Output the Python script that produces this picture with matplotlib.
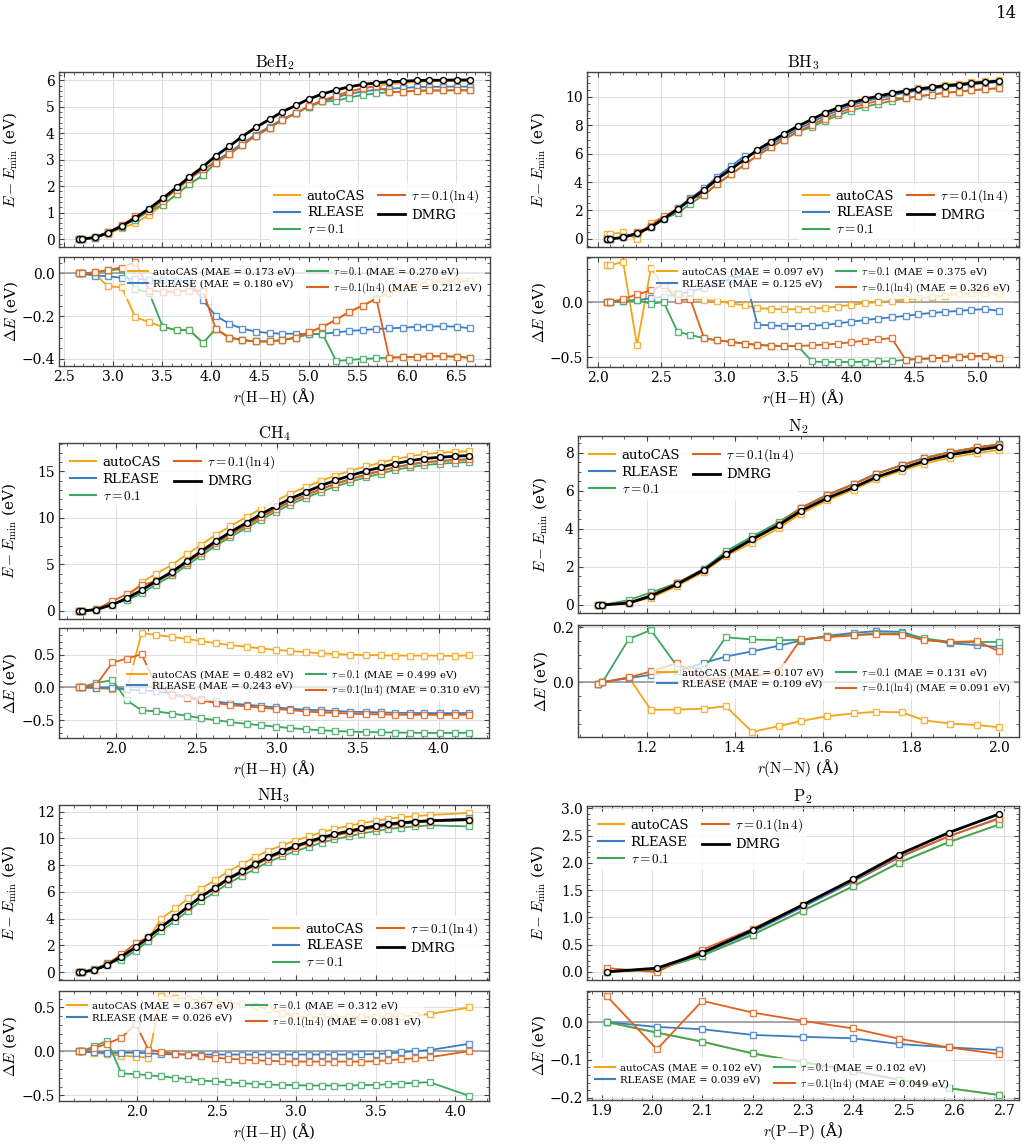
import matplotlib
matplotlib.use("Agg")
import matplotlib.pyplot as plt
from matplotlib.lines import Line2D
from matplotlib.ticker import AutoMinorLocator, MultipleLocator
from matplotlib.colors import to_rgba

plt.rcParams["font.family"] = ["DejaVu Serif"]
plt.rcParams["mathtext.fontset"] = "cm"

# ---- data ----
methods = ["autoCAS", "RLEASE", r"$\tau = 0.1$", r"$\tau = 0.1(\ln 4)$"]
colors = ["#f2a516", "#3c7dc4", "#3ba75f", "#e0611c"]

# BeH2
beh2_r = [2.65, 2.68, 2.82, 2.95, 3.09, 3.23, 3.37, 3.51, 3.65, 3.78, 3.92, 4.05, 4.19, 4.32, 4.46, 4.60,
          4.73, 4.87, 5.00, 5.14, 5.28, 5.41, 5.55, 5.69, 5.82, 5.96, 6.10, 6.23, 6.37, 6.51, 6.65]
beh2_dmrg = [0.00, 0.00, 0.06, 0.24, 0.49, 0.80, 1.15, 1.54, 1.95, 2.34, 2.73, 3.14, 3.51, 3.87, 4.22, 4.52,
             4.81, 5.05, 5.29, 5.48, 5.63, 5.75, 5.84, 5.90, 5.94, 5.96, 5.99, 6.00, 6.00, 6.01, 6.01]
beh2_autocas = [0.0, 0.0, -0.005, -0.06, -0.065, -0.205, -0.228, -0.25, -0.265, -0.265, -0.325, -0.26, -0.30,
                -0.312, -0.318, -0.318, -0.312, -0.30, -0.276, -0.25, -0.216, -0.181, -0.15, -0.118, -0.09,
                -0.07, -0.05, -0.04, -0.036, -0.036, -0.036]
beh2_rlease = [0.0, 0.0, -0.01, -0.013, -0.02, -0.025, -0.03, -0.032, -0.034, -0.036, -0.126, -0.198, -0.236,
               -0.258, -0.272, -0.279, -0.282, -0.282, -0.285, -0.282, -0.276, -0.269, -0.265, -0.26, -0.257,
               -0.254, -0.25, -0.249, -0.247, -0.249, -0.257]
beh2_tau = [0.0, 0.0, 0.005, 0.015, 0.02, -0.072, -0.09, -0.25, -0.265, -0.265, -0.325, -0.26, -0.30, -0.312,
            -0.318, -0.318, -0.312, -0.30, -0.285, -0.282, -0.41, -0.405, -0.40, -0.397, -0.394, -0.392, -0.39,
            -0.388, -0.387, -0.389, -0.395]
beh2_tau_ln4 = [0.0, 0.0, 0.006, 0.017, 0.028, 0.054, -0.08, -0.085, -0.085, -0.08, -0.08, -0.26, -0.30,
                -0.312, -0.318, -0.318, -0.312, -0.30, -0.276, -0.25, -0.216, -0.181, -0.15, -0.118, -0.394,
                -0.392, -0.39, -0.388, -0.388, -0.39, -0.395]
beh2_mae = [0.173, 0.180, 0.270, 0.212]

# BH3
bh3_r = [2.07, 2.10, 2.20, 2.31, 2.42, 2.52, 2.63, 2.73, 2.84, 2.94, 3.05, 3.16, 3.26, 3.37, 3.47, 3.58,
         3.69, 3.79, 3.90, 4.00, 4.11, 4.21, 4.32, 4.43, 4.53, 4.64, 4.74, 4.85, 4.95, 5.06, 5.17]
bh3_dmrg = [0.00, 0.00, 0.10, 0.38, 0.83, 1.42, 2.08, 2.76, 3.44, 4.20, 4.90, 5.61, 6.27, 6.86, 7.40, 7.95,
            8.42, 8.87, 9.25, 9.58, 9.86, 10.05, 10.26, 10.42, 10.57, 10.68, 10.80, 10.87, 10.97, 11.04, 11.13]
bh3_autocas = [0.334, 0.337, 0.365, -0.393, 0.313, 0.13, 0.08, 0.03, 0.02, 0.01, -0.01, -0.03, -0.055, -0.062,
               -0.065, -0.065, -0.06, -0.052, -0.04, -0.025, -0.01, 0.0, 0.01, 0.025, 0.035, 0.048, 0.06,
               0.072, 0.08, 0.085, 0.07]
bh3_rlease = [0.0, 0.0, 0.008, 0.018, 0.035, 0.05, 0.07, 0.095, 0.13, 0.17, 0.21, 0.245, -0.206, -0.212,
              -0.218, -0.218, -0.215, -0.209, -0.193, -0.178, -0.163, -0.15, -0.138, -0.126, -0.11, -0.098,
              -0.089, -0.08, -0.07, -0.064, -0.08]
bh3_tau = [0.0, 0.0, 0.01, 0.02, -0.015, 0.0, -0.27, -0.298, -0.33, -0.347, -0.362, -0.377, -0.39, -0.396,
           -0.40, -0.40, -0.54, -0.545, -0.545, -0.545, -0.542, -0.54, -0.538, -0.524, -0.518, -0.512, -0.506,
           -0.50, -0.494, -0.49, -0.51]
bh3_tau_ln4 = [0.0, 0.0, 0.028, 0.07, 0.107, 0.16, 0.015, 0.03, -0.33, -0.347, -0.362, -0.377, -0.39, -0.396,
               -0.40, -0.40, -0.393, -0.387, -0.377, -0.365, -0.35, -0.34, -0.328, -0.524, -0.518, -0.512,
               -0.506, -0.50, -0.494, -0.49, -0.51]
bh3_mae = [0.097, 0.125, 0.375, 0.326]

# CH4
ch4_r = [1.77, 1.79, 1.88, 1.98, 2.07, 2.16, 2.25, 2.35, 2.44, 2.53, 2.62, 2.71, 2.81, 2.90, 2.99, 3.08,
         3.18, 3.27, 3.36, 3.45, 3.55, 3.64, 3.73, 3.82, 3.91, 4.01, 4.10, 4.19]
ch4_dmrg = [0.00, 0.00, 0.15, 0.69, 1.37, 2.24, 3.21, 4.22, 5.34, 6.43, 7.51, 8.48, 9.49, 10.40, 11.26, 12.06,
            12.82, 13.47, 14.04, 14.55, 15.05, 15.45, 15.85, 16.14, 16.39, 16.53, 16.64, 16.71]
ch4_autocas = [0.0, 0.0, -0.01, -0.03, -0.03, 0.83, 0.80, 0.77, 0.74, 0.706, 0.675, 0.644, 0.62, 0.593,
               0.572, 0.557, 0.536, 0.52, 0.51, 0.50, 0.495, 0.49, 0.485, 0.485, 0.485, 0.485, 0.48, 0.49]
ch4_rlease = [0.0, 0.0, -0.01, -0.005, -0.03, -0.046, -0.06, -0.1, -0.145, -0.18, -0.215, -0.245, -0.265,
              -0.285, -0.305, -0.325, -0.34, -0.35, -0.36, -0.37, -0.376, -0.382, -0.387, -0.39, -0.392,
              -0.393, -0.393, -0.39]
ch4_tau = [0.0, 0.0, 0.07, 0.11, -0.2, -0.35, -0.366, -0.40, -0.433, -0.47, -0.50, -0.53, -0.557, -0.577,
           -0.60, -0.62, -0.64, -0.655, -0.665, -0.675, -0.68, -0.686, -0.69, -0.69, -0.696, -0.696, -0.696,
           -0.69]
ch4_tau_ln4 = [0.0, 0.0, 0.04, 0.38, 0.44, 0.505, 0.04, -0.11, -0.155, -0.2, -0.237, -0.27, -0.29, -0.31,
               -0.33, -0.345, -0.37, -0.38, -0.39, -0.40, -0.41, -0.41, -0.418, -0.418, -0.418, -0.42, -0.418,
               -0.418]
ch4_mae = [0.482, 0.243, 0.499, 0.310]

# N2
n2_r = [1.09, 1.10, 1.16, 1.21, 1.27, 1.33, 1.38, 1.44, 1.50, 1.55, 1.61, 1.67, 1.72, 1.78, 1.83, 1.89,
        1.95, 2.00]
n2_dmrg = [0.02, 0.00, 0.10, 0.47, 1.10, 1.84, 2.66, 3.45, 4.20, 4.94, 5.62, 6.18, 6.71, 7.18, 7.57, 7.90,
           8.14, 8.32]
n2_autocas = [-0.005, 0.0, 0.017, -0.10, -0.099, -0.096, -0.087, -0.18, -0.159, -0.141, -0.123, -0.113,
              -0.107, -0.109, -0.138, -0.15, -0.155, -0.163]
n2_rlease = [-0.005, 0.0, 0.015, 0.027, 0.041, 0.07, 0.093, 0.112, 0.132, 0.151, 0.168, 0.179, 0.185, 0.183,
             0.157, 0.141, 0.135, 0.127]
n2_tau = [-0.005, 0.0, 0.157, 0.189, 0.057, 0.048, 0.163, 0.155, 0.152, 0.154, 0.166, 0.171, 0.177, 0.177,
          0.159, 0.146, 0.146, 0.146]
n2_tau_ln4 = [-0.005, 0.0, 0.018, 0.039, 0.07, 0.01, 0.015, 0.02, 0.04, 0.155, 0.163, 0.17, 0.174, 0.173,
              0.152, 0.146, 0.149, 0.112]
n2_mae = [0.107, 0.109, 0.131, 0.091]

# NH3
nh3_r = [1.63, 1.65, 1.73, 1.81, 1.90, 1.99, 2.07, 2.15, 2.24, 2.32, 2.40, 2.49, 2.57, 2.66, 2.74, 2.82,
         2.91, 2.99, 3.08, 3.16, 3.24, 3.33, 3.41, 3.50, 3.58, 3.66, 3.75, 3.84, 4.09]
nh3_dmrg = [0.00, 0.00, 0.15, 0.53, 1.16, 1.86, 2.59, 3.37, 4.15, 4.91, 5.64, 6.31, 6.97, 7.55, 8.08, 8.58,
            9.03, 9.41, 9.76, 10.06, 10.31, 10.54, 10.74, 10.92, 11.07, 11.17, 11.25, 11.32, 11.40]
nh3_autocas = [0.0, 0.0, -0.015, -0.03, -0.046, -0.06, -0.07, 0.63, 0.61, 0.60, 0.58, 0.567, 0.55, 0.536,
               0.52, 0.48, 0.44, 0.405, 0.387, 0.39, 0.39, 0.393, 0.393, 0.395, 0.40, 0.40, 0.41, 0.425, 0.50]
nh3_rlease = [0.0, 0.0, -0.008, -0.015, -0.015, -0.015, -0.02, -0.03, -0.033, -0.035, -0.035, -0.035, -0.035,
              -0.035, -0.035, -0.035, -0.035, -0.035, -0.035, -0.035, -0.035, -0.035, -0.033, -0.03, -0.02,
              -0.01, 0.005, 0.015, 0.088]
nh3_tau = [0.0, 0.0, 0.06, 0.12, -0.25, -0.257, -0.27, -0.283, -0.30, -0.314, -0.33, -0.34, -0.352, -0.36,
           -0.368, -0.375, -0.38, -0.383, -0.387, -0.387, -0.387, -0.387, -0.383, -0.38, -0.372, -0.364,
           -0.356, -0.349, -0.506]
nh3_tau_ln4 = [0.0, 0.0, 0.04, 0.088, 0.157, 0.31, 0.02, -0.004, -0.027, -0.038, -0.054, -0.07, -0.084,
               -0.092, -0.10, -0.107, -0.111, -0.115, -0.115, -0.115, -0.115, -0.115, -0.115, -0.111, -0.10,
               -0.088, -0.077, -0.065, 0.004]
nh3_mae = [0.367, 0.026, 0.312, 0.081]

# P2
p2_r = [1.91, 2.01, 2.10, 2.20, 2.30, 2.40, 2.49, 2.59, 2.69]
p2_dmrg = [0.00, 0.067, 0.35, 0.765, 1.23, 1.70, 2.15, 2.555, 2.897]
p2_autocas = [0.0, -0.028, -0.052, -0.083, -0.106, -0.13, -0.152, -0.175, -0.193]
p2_rlease = [0.0, -0.013, -0.019, -0.034, -0.039, -0.043, -0.058, -0.067, -0.074]
p2_tau = [0.0, -0.028, -0.052, -0.083, -0.106, -0.13, -0.152, -0.175, -0.193]
p2_tau_ln4 = [0.069, -0.072, 0.056, 0.025, 0.003, -0.017, -0.044, -0.067, -0.085]
p2_mae = [0.102, 0.039, 0.102, 0.049]

W, H = 1026, 1144
fig = plt.figure(figsize=(W / 100, H / 100), dpi=100)


def px_axes(left, top, right, bottom, sharex=None):
    return fig.add_axes([left / W, 1 - bottom / H, (right - left) / W, (bottom - top) / H], sharex=sharex)


def style(ax):
    ax.xaxis.set_minor_locator(AutoMinorLocator())
    ax.yaxis.set_minor_locator(AutoMinorLocator())
    ax.tick_params(which="both", direction="in", top=True, right=True, color="#444444", labelsize=10, pad=3)
    ax.tick_params(which="major", length=3.5, width=0.8)
    ax.tick_params(which="minor", length=2, width=0.6)
    ax.grid(True, which="major", color="#dddddd", lw=0.7)
    ax.set_axisbelow(True)
    for s in ax.spines.values():
        s.set_color("#444444")
        s.set_linewidth(1.0)


def panel(frame_top, frame_bot, r, dmrg, deltas, maes, title, bond, loc_top, loc_bot, lab_x, step_top, step_bot):
    top = px_axes(*frame_top)
    bot = px_axes(*frame_bot, sharex=top)
    for name, col, d in zip(methods, colors, deltas):
        e = [a + b for a, b in zip(dmrg, d)]
        kw = dict(color=col, lw=1.3, marker="s", ms=4.8, mfc="white", mec=to_rgba(col, 0.8), mew=1.0)
        top.plot(r, e, **kw)
        bot.plot(r, d, **kw)
    top.plot(r, dmrg, color="black", lw=2.0, marker="o", ms=4.3, mfc="white", mec="black", mew=1.0, zorder=5)
    bot.axhline(0, color="#999999", lw=1.2, zorder=1)

    for ax in (top, bot):
        style(ax)
    top.yaxis.set_major_locator(MultipleLocator(step_top))
    bot.yaxis.set_major_locator(MultipleLocator(step_bot))
    top.yaxis.set_minor_locator(AutoMinorLocator())
    bot.yaxis.set_minor_locator(AutoMinorLocator())
    top.tick_params(labelbottom=False)
    top.set_title(title, fontsize=12, pad=3)
    top.set_ylabel(r"$E - E_{\mathrm{min}}$ (eV)", fontsize=11)
    bot.set_ylabel(r"$\Delta E$ (eV)", fontsize=11)
    bot.set_xlabel(bond, fontsize=11, labelpad=1)
    top.yaxis.set_label_coords(lab_x, 0.5)
    bot.yaxis.set_label_coords(lab_x, 0.5)

    h_top = [Line2D([], [], color=c, lw=1.5) for c in colors] + [Line2D([], [], color="black", lw=2.0)]
    top.legend(h_top, methods + ["DMRG"], loc=loc_top, ncol=2, fontsize=9.5, frameon=True, framealpha=0.85,
               edgecolor="none", fancybox=False, labelspacing=0.3, columnspacing=1.0, handletextpad=0.5,
               borderpad=0.3)
    h_bot = [Line2D([], [], color=c, lw=1.5) for c in colors]
    lab_bot = [f"{m} (MAE = {v:.3f} eV)" for m, v in zip(methods, maes)]
    bot.legend(h_bot, lab_bot, loc=loc_bot, ncol=2, fontsize=7.3, frameon=True, framealpha=0.75,
               edgecolor="none", fancybox=False, labelspacing=0.25, columnspacing=1.2, handletextpad=0.5,
               borderpad=0.3)


hh = r"$r(\mathrm{H{-}H})$ (Å)"
panel((59, 72, 490, 247), (59, 257, 490, 366), beh2_r, beh2_dmrg,
      [beh2_autocas, beh2_rlease, beh2_tau, beh2_tau_ln4], beh2_mae, r"$\mathrm{BeH_2}$", hh,
      "lower right", "upper right", -0.09, 1, 0.2)
panel((587, 72, 1019, 247), (587, 257, 1019, 367), bh3_r, bh3_dmrg,
      [bh3_autocas, bh3_rlease, bh3_tau, bh3_tau_ln4], bh3_mae, r"$\mathrm{BH_3}$", hh,
      "lower right", "upper right", -0.09, 2, 0.5)
panel((59, 443, 489, 619), (59, 628, 489, 738), ch4_r, ch4_dmrg,
      [ch4_autocas, ch4_rlease, ch4_tau, ch4_tau_ln4], ch4_mae, r"$\mathrm{CH_4}$", hh,
      "upper left", "center right", -0.093, 5, 0.5)
panel((578, 436, 1019, 613), (578, 625, 1019, 737), n2_r, n2_dmrg,
      [n2_autocas, n2_rlease, n2_tau, n2_tau_ln4], n2_mae, r"$\mathrm{N_2}$", r"$r(\mathrm{N{-}N})$ (Å)",
      "upper left", "center right", -0.063, 2, 0.2)
panel((59, 805, 489, 980), (59, 991, 489, 1101), nh3_r, nh3_dmrg,
      [nh3_autocas, nh3_rlease, nh3_tau, nh3_tau_ln4], nh3_mae, r"$\mathrm{NH_3}$", hh,
      "lower right", "upper left", -0.093, 2, 0.5)
panel((587, 806, 1019, 980), (587, 991, 1019, 1100), p2_r, p2_dmrg,
      [p2_autocas, p2_rlease, p2_tau, p2_tau_ln4], p2_mae, r"$\mathrm{P_2}$", r"$r(\mathrm{P{-}P})$ (Å)",
      "upper left", "lower left", -0.09, 0.5, 0.1)

fig.text(1017 / W, 1 - 14 / H, "14", ha="right", va="center", fontsize=12)

fig.savefig("out.png", dpi=100)
